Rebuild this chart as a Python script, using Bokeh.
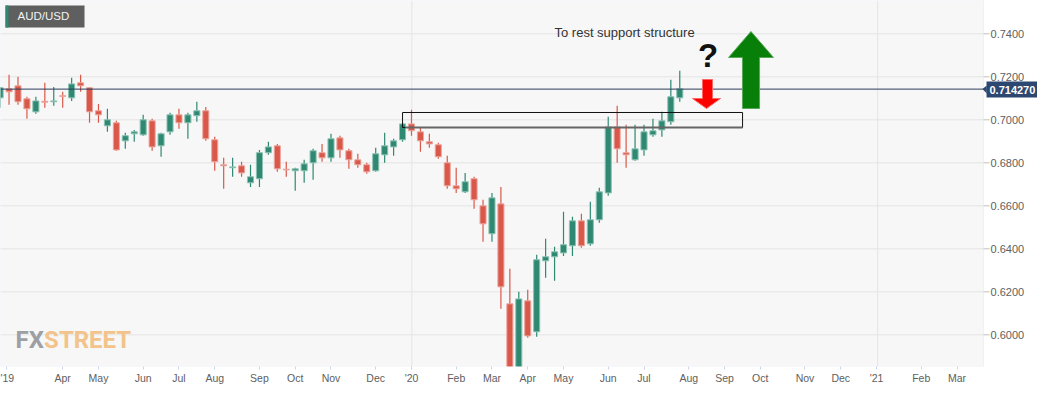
from bokeh.plotting import figure
from bokeh.models import ColumnDataSource, FixedTicker, Range1d, CustomJSTickFormatter, BoxAnnotation
from bokeh.core.properties import value
from bokeh.embed import file_html
from bokeh.resources import INLINE

# ---- weekly AUD/USD candles (Feb 2019 - Jul 2020) ----
opens = [0.7102, 0.7144, 0.7158, 0.7098, 0.7037, 0.7086, 0.7084, 0.7112, 0.7102, 0.7172,
         0.7149, 0.7042, 0.6972, 0.6986, 0.6902, 0.6935, 0.6930, 0.6995, 0.6879, 0.6944,
         0.7023, 0.6986, 0.7019, 0.7042, 0.6907, 0.6791, 0.6777, 0.6786, 0.6707, 0.6726,
         0.6847, 0.6879, 0.6770, 0.6763, 0.6763, 0.6800, 0.6847, 0.6823, 0.6916, 0.6856,
         0.6814, 0.6791, 0.6763, 0.6837, 0.6874, 0.6907, 0.6981, 0.6944, 0.6898, 0.6884,
         0.6800, 0.6693, 0.6665, 0.6726, 0.6600, 0.6470, 0.6609, 0.6144, 0.5800, 0.6158,
         0.6014, 0.6344, 0.6363, 0.6381, 0.6414, 0.6530, 0.6423, 0.6535, 0.6660, 0.6967,
         0.6847, 0.6814, 0.6860, 0.6930, 0.6953, 0.6991, 0.7102]
highs = [0.7153, 0.7209, 0.7200, 0.7107, 0.7107, 0.7172, 0.7153, 0.7130, 0.7195, 0.7209,
         0.7152, 0.7074, 0.7051, 0.6995, 0.6940, 0.6953, 0.7023, 0.7005, 0.6940, 0.7033,
         0.7051, 0.7033, 0.7084, 0.7060, 0.6921, 0.6823, 0.6823, 0.6805, 0.6791, 0.6860,
         0.6898, 0.6888, 0.6805, 0.6777, 0.6814, 0.6865, 0.6888, 0.6935, 0.6926, 0.6865,
         0.6842, 0.6800, 0.6870, 0.6940, 0.6912, 0.6986, 0.7047, 0.6963, 0.6935, 0.6893,
         0.6833, 0.6777, 0.6753, 0.6735, 0.6628, 0.6660, 0.6688, 0.6307, 0.6200, 0.6209,
         0.6372, 0.6447, 0.6409, 0.6572, 0.6549, 0.6563, 0.6619, 0.6684, 0.7014, 0.7065,
         0.6977, 0.6977, 0.6977, 0.7005, 0.7037, 0.7186, 0.7228]
lows = [0.7056, 0.7070, 0.7070, 0.7005, 0.7028, 0.7056, 0.7065, 0.7056, 0.7088, 0.7130,
        0.6986, 0.6986, 0.6944, 0.6856, 0.6865, 0.6898, 0.6926, 0.6856, 0.6828, 0.6930,
        0.6958, 0.6912, 0.6991, 0.6902, 0.6763, 0.6679, 0.6735, 0.6735, 0.6688, 0.6688,
        0.6837, 0.6758, 0.6735, 0.6670, 0.6707, 0.6721, 0.6805, 0.6805, 0.6823, 0.6772,
        0.6777, 0.6749, 0.6758, 0.6800, 0.6833, 0.6898, 0.6926, 0.6851, 0.6870, 0.6819,
        0.6679, 0.6660, 0.6660, 0.6586, 0.6433, 0.6433, 0.6121, 0.5510, 0.5720, 0.5986,
        0.5991, 0.6265, 0.6251, 0.6367, 0.6367, 0.6405, 0.6414, 0.6521, 0.6647, 0.6800,
        0.6777, 0.6809, 0.6833, 0.6921, 0.6921, 0.6977, 0.7084]
closes = [0.7149, 0.7130, 0.7084, 0.7051, 0.7088, 0.7082, 0.7088, 0.7109, 0.7167, 0.7158,
          0.7037, 0.7023, 0.7000, 0.6860, 0.6926, 0.6944, 0.7000, 0.6874, 0.6935, 0.7023,
          0.6986, 0.7023, 0.7042, 0.6912, 0.6805, 0.6786, 0.6781, 0.6753, 0.6735, 0.6847,
          0.6874, 0.6772, 0.6767, 0.6772, 0.6795, 0.6856, 0.6823, 0.6912, 0.6860, 0.6814,
          0.6791, 0.6758, 0.6842, 0.6879, 0.6902, 0.6981, 0.6949, 0.6902, 0.6888, 0.6828,
          0.6693, 0.6679, 0.6712, 0.6628, 0.6516, 0.6637, 0.6223, 0.5780, 0.6167, 0.5995,
          0.6349, 0.6363, 0.6386, 0.6419, 0.6530, 0.6414, 0.6535, 0.6665, 0.6967, 0.6865,
          0.6837, 0.6865, 0.6944, 0.6949, 0.6995, 0.7107, 0.7144]

# x axis: week index of month labels
x_tick_pos = [0.77, 7, 11, 16, 20, 24, 29, 33, 37, 42, 46, 51, 55,
              59, 63, 68, 72, 77, 81, 85, 90, 94, 98, 103, 107]
x_tick_labels = ["'19", "Apr", "May", "Jun", "Jul", "Aug", "Sep", "Oct", "Nov", "Dec", "'20", "Feb", "Mar",
                 "Apr", "May", "Jun", "Jul", "Aug", "Sep", "Oct", "Nov", "Dec", "'21", "Feb", "Mar"]
year_grid = [46.04, 98.13]
y_ticks = [0.60, 0.62, 0.64, 0.66, 0.68, 0.70, 0.72, 0.74]
last_price = 0.71427
last_price_label = "0.714270"

GREEN, RED = "#2e8872", "#d9584a"
GREEN_EDGE, RED_EDGE = "#8cc2b3", "#eba79e"
FONT = "Liberation Sans"
AXIS_C = "#ccd6eb"
GRID_C = "#e4e4e4"
LABEL_C = "#606060"

# layout constants (week-index / price units)
X0, X1 = 0.0447, 116.0          # frame extent
Y0, Y1 = 0.585256, 0.755488
PLOT_RIGHT = 109.96             # right edge of the chart area (price scale beyond)
TICK_END = 110.63
LABEL_X = 110.75

idx = list(range(len(opens)))
up = [c >= o for o, c in zip(opens, closes)]
src = ColumnDataSource(dict(
    x=idx, o=opens, h=highs, l=lows, c=closes,
    top=[max(o, c) for o, c in zip(opens, closes)],
    bottom=[min(o, c) for o, c in zip(opens, closes)],
    color=[GREEN if u else RED for u in up],
    edge=[GREEN_EDGE if u else RED_EDGE for u in up],
))

p = figure(frame_width=1037, frame_height=366,
           x_range=Range1d(X0, X1), y_range=Range1d(Y0, Y1),
           y_axis_location=None, output_backend="svg", toolbar_location=None,
           min_border_left=0, min_border_top=0, min_border_right=0, min_border_bottom=0,
           background_fill_color="white", border_fill_color="white",
           outline_line_color=None)
p.xgrid.visible = False
p.ygrid.visible = False

# chart-area background and border
p.add_layout(BoxAnnotation(right=PLOT_RIGHT, fill_color="#f7f7f7", fill_alpha=1,
                           line_color=AXIS_C, line_width=1, level="image"))

# bottom axis
p.xaxis.ticker = FixedTicker(ticks=x_tick_pos)
p.xaxis.formatter = CustomJSTickFormatter(args=dict(pos=x_tick_pos, labels=x_tick_labels), code="""
    const k = pos.findIndex(v => Math.abs(v - tick) < 1e-6);
    return k >= 0 ? labels[k] : "";
""")
p.xaxis.axis_line_color = None
p.xaxis.major_tick_line_color = AXIS_C
p.xaxis.major_tick_out = 3
p.xaxis.major_tick_in = 0
p.xaxis.minor_tick_line_color = None
p.xaxis.major_label_standoff = 2
p.xaxis.major_label_text_font = FONT
p.xaxis.major_label_text_font_size = "10.5px"
p.xaxis.major_label_text_color = LABEL_C

# grid lines
p.segment(x0=[X0] * len(y_ticks), y0=y_ticks, x1=[PLOT_RIGHT] * len(y_ticks), y1=y_ticks,
          line_color=GRID_C, line_width=1)
p.segment(x0=year_grid, y0=[Y0] * len(year_grid), x1=year_grid, y1=[Y1] * len(year_grid),
          line_color=GRID_C, line_width=1)

# right price scale
p.segment(x0=[PLOT_RIGHT] * len(y_ticks), y0=y_ticks, x1=[TICK_END] * len(y_ticks), y1=y_ticks,
          line_color="#c0c0c0", line_width=1)
p.text(x=[LABEL_X] * len(y_ticks), y=y_ticks, text=[f"{v:.4f}" for v in y_ticks],
       text_font=value(FONT), text_font_size="11px", text_color=LABEL_C,
       text_baseline="middle", text_align="left")

# logo watermark
p.text(x=[1.72], y=[0.59758], text=["FX"], text_font=value("Roboto"),
       text_font_style="bold", text_font_size="24px", text_color="#9c9fa4", text_baseline="middle")
p.text(x=[4.92], y=[0.59758], text=["STREET"], text_font=value("Roboto"),
       text_font_style="bold", text_font_size="24px", text_color="#f2c38a", text_baseline="middle")

# candles
p.segment(x0="x", y0="l", x1="x", y1="h", color="color", line_width=1.2, source=src)
p.vbar(x="x", width=0.68, top="top", bottom="bottom", fill_color="color",
       line_color="edge", line_width=1, source=src)

# last price line and badge
p.segment(x0=[X0], y0=[last_price], x1=[110.3], y1=[last_price], line_color="#2b3d5b", line_width=1)
p.quad(left=[110.30], right=[116.45], top=[0.71777], bottom=[0.71033],
       fill_color="#2c4770", line_color=None)
p.patch([109.85, 110.32, 110.32], [last_price, 0.71591, 0.71219], fill_color="#2c4770", line_color=None)
p.text(x=[110.63], y=[0.71405], text=[last_price_label], text_font=value(FONT),
       text_font_size="11px", text_font_style="bold", text_color="white",
       text_baseline="middle", text_align="left")

# support zone rectangle
zone_left, zone_right, zone_top, zone_bottom = 45.0, 83.02, 0.7034, 0.69642
p.quad(left=[zone_left], right=[zone_right], top=[zone_top], bottom=[zone_bottom],
       fill_alpha=0, line_color="#111111", line_width=1)
p.line([zone_left + 0.3, zone_right], [zone_bottom, zone_bottom], line_color="#666666", line_width=2)

# arrows
p.patch([78.54, 79.66, 79.66, 80.56, 78.99, 77.42, 78.54],
        [0.71874, 0.71874, 0.70991, 0.70991, 0.70526, 0.70991, 0.70991],
        fill_color="#ff0000", line_color="#ff6666", line_width=1)
p.patch([83.01, 84.92, 84.92, 86.48, 83.96, 81.45, 83.01],
        [0.70526, 0.70526, 0.72898, 0.72898, 0.74107, 0.72898, 0.72898],
        fill_color="#087f08", line_color="#5aa85a", line_width=1)

# texts
p.text(x=[61.99], y=[0.7406], text=["To rest support structure"], text_font=value(FONT),
       text_font_size="13px", text_color="#333333", text_baseline="middle", text_align="left")
p.text(x=[79.16], y=[0.7301], text=["?"], text_font=value(FONT), text_font_style="bold",
       text_font_size="33px", text_color="#111111", text_baseline="middle", text_align="center")

# AUD/USD header box
p.quad(left=[0.604], right=[9.44], top=[0.75316], bottom=[0.74293], fill_color="#5f5f5f", line_color=None)
p.quad(left=[0.604], right=[0.94], top=[0.75316], bottom=[0.74293], fill_color="#2e8872", line_color=None)
p.text(x=[1.946], y=[0.74805], text=["AUD/USD"], text_font=value(FONT), text_font_size="11.5px",
       text_color="#f2f2f2", text_baseline="middle", text_align="left")

open("out.html", "w").write(file_html(p, INLINE))
